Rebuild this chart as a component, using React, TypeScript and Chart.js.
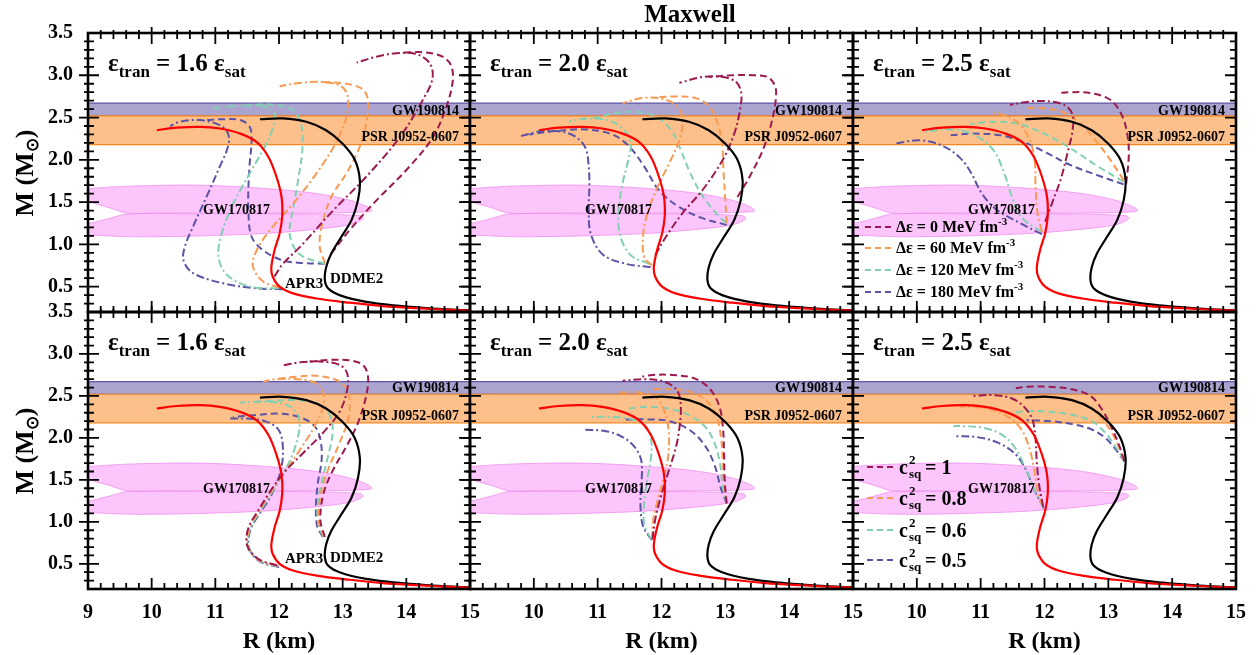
import React, { useEffect, useRef } from "react";
import { Chart, registerables } from "chart.js";

Chart.register(...registerables);

type Pt = [number, number];

// ---------- axes ----------
const R_RANGE: Pt = [9, 15];
const M_RANGE: Pt = [0.2, 3.5];
const X_TICKS = [9, 10, 11, 12, 13, 14, 15];
const X_TICKS_INNER = [10, 11, 12, 13, 14, 15];
const Y_TICKS = [0.5, 1.0, 1.5, 2.0, 2.5, 3.0, 3.5];

// ---------- observational bands ----------
const GW190814_BAND: Pt = [2.52, 2.67];
const PSR_BAND: Pt = [2.18, 2.52];

// GW170817 regions (R, M)
const GW170817_UPPER: Pt[] = [[8.8, 1.64], [9.02, 1.66], [9.71, 1.69], [10.76, 1.70], [11.8, 1.66], [12.6, 1.6], [13.12, 1.52], [13.4, 1.44], [13.46, 1.4], [13.4, 1.385], [12.86, 1.372], [11.29, 1.37], [10.24, 1.37], [9.61, 1.37], [9.35, 1.43], [9.03, 1.5], [8.8, 1.55], [8.8, 1.64]];
const GW170817_LOWER: Pt[] = [[8.8, 1.23], [9.03, 1.25], [9.35, 1.31], [9.61, 1.36], [10.76, 1.362], [12.34, 1.36], [13.26, 1.34], [13.32, 1.31], [13.28, 1.28], [13.1, 1.23], [12.6, 1.18], [11.8, 1.13], [10.76, 1.1], [9.71, 1.09], [9.03, 1.11], [8.8, 1.12], [8.8, 1.23]];

// ---------- hadronic EOS ----------
const APR3: Pt[] = [[10.08, 2.35], [10.39, 2.38], [10.76, 2.39], [11.07, 2.37], [11.39, 2.31], [11.65, 2.21], [11.83, 2.04], [11.96, 1.8], [12.04, 1.56], [12.05, 1.33], [12.01, 1.13], [11.93, 0.93], [11.88, 0.73], [11.9, 0.62], [12.01, 0.5], [12.22, 0.42], [12.59, 0.36], [13.11, 0.31], [13.63, 0.27], [14.16, 0.245], [14.78, 0.222], [15.3, 0.21]];
const DDME2: Pt[] = [[11.7, 2.48], [12.06, 2.49], [12.43, 2.45], [12.74, 2.35], [13.0, 2.19], [13.19, 2.0], [13.27, 1.76], [13.24, 1.52], [13.14, 1.29], [12.98, 1.09], [12.82, 0.89], [12.74, 0.73], [12.72, 0.58], [12.77, 0.48], [12.95, 0.4], [13.37, 0.32], [13.89, 0.273], [14.42, 0.241], [14.89, 0.222], [15.3, 0.21]];

// ---------- top row: Δε series (A = from APR3, dash-dot; D = from DDME2, dashed) ----------
const T16_DE0_A: Pt[] = [[11.93, 0.62], [12.06, 0.77], [12.33, 0.97], [12.85, 1.4], [13.37, 1.8], [13.9, 2.27], [14.26, 2.71], [14.41, 2.96], [14.37, 3.14], [14.16, 3.25], [13.84, 3.26], [13.53, 3.22], [13.22, 3.15]];
const T16_DE0_D: Pt[] = [[12.82, 0.89], [13.11, 1.17], [13.53, 1.52], [14.05, 1.92], [14.42, 2.27], [14.63, 2.63], [14.73, 2.94], [14.7, 3.12], [14.57, 3.22], [14.31, 3.27], [13.95, 3.27]];
const T16_DE60_A: Pt[] = [[12.01, 0.49], [11.75, 0.56], [11.59, 0.74], [11.65, 0.93], [11.86, 1.17], [12.22, 1.48], [12.59, 1.84], [12.9, 2.21], [13.06, 2.51], [13.08, 2.75], [12.98, 2.87], [12.69, 2.92], [12.33, 2.91], [12.01, 2.87]];
const T16_DE60_D: Pt[] = [[12.72, 0.78], [12.64, 0.97], [12.67, 1.21], [12.82, 1.56], [13.06, 1.84], [13.27, 2.16], [13.38, 2.47], [13.4, 2.69], [13.32, 2.83], [13.06, 2.9], [12.69, 2.92]];
const T16_DE120_A: Pt[] = [[11.99, 0.48], [11.54, 0.5], [11.18, 0.64], [11.05, 0.85], [11.1, 1.13], [11.28, 1.48], [11.54, 1.84], [11.78, 2.16], [11.91, 2.39], [11.93, 2.55], [11.75, 2.63], [11.38, 2.64], [10.97, 2.61]];
const T16_DE120_D: Pt[] = [[12.72, 0.77], [12.33, 0.88], [12.17, 1.11], [12.23, 1.45], [12.3, 1.76], [12.37, 2.16], [12.33, 2.47], [12.17, 2.61], [11.91, 2.65], [11.54, 2.65]];
const T16_DE180_A: Pt[] = [[12.06, 0.47], [11.65, 0.48], [11.12, 0.54], [10.65, 0.66], [10.5, 0.81], [10.52, 0.97], [10.65, 1.21], [10.86, 1.56], [11.07, 1.92], [11.2, 2.16], [11.2, 2.31], [11.07, 2.41], [10.76, 2.47], [10.44, 2.45], [10.29, 2.4]];
const T16_DE180_D: Pt[] = [[12.72, 0.77], [12.38, 0.78], [12.06, 0.81], [11.75, 0.93], [11.57, 1.09], [11.52, 1.37], [11.52, 1.68], [11.54, 1.96], [11.57, 2.23], [11.54, 2.39], [11.39, 2.47], [11.12, 2.48], [10.86, 2.47]];

const T20_DE0_A: Pt[] = [[11.9, 0.87], [12.07, 1.09], [12.33, 1.37], [12.64, 1.64], [12.96, 2.0], [13.14, 2.31], [13.23, 2.59], [13.25, 2.79], [13.17, 2.92], [12.96, 2.98], [12.64, 2.98], [12.28, 2.91]];
const T20_DE0_D: Pt[] = [[13.19, 1.56], [13.38, 1.8], [13.59, 2.12], [13.72, 2.43], [13.79, 2.71], [13.78, 2.87], [13.66, 2.98], [13.43, 3.0], [13.11, 3.0], [12.75, 2.98]];
const T20_DE60_A: Pt[] = [[11.85, 0.75], [11.73, 0.85], [11.71, 1.09], [11.78, 1.37], [11.94, 1.68], [12.12, 1.96], [12.28, 2.23], [12.33, 2.47], [12.25, 2.63], [12.02, 2.72], [11.7, 2.73], [11.39, 2.67]];
const T20_DE60_D: Pt[] = [[13.02, 1.25], [13.0, 1.52], [12.97, 1.88], [12.95, 2.19], [12.88, 2.43], [12.75, 2.63], [12.54, 2.73], [12.23, 2.75], [11.91, 2.74]];
const T20_DE120_A: Pt[] = [[11.81, 0.77], [11.52, 0.87], [11.35, 1.11], [11.33, 1.41], [11.39, 1.72], [11.48, 2.0], [11.52, 2.19], [11.44, 2.33], [11.23, 2.45], [10.92, 2.49], [10.55, 2.46]];
const T20_DE120_D: Pt[] = [[13.01, 1.25], [12.83, 1.39], [12.62, 1.6], [12.44, 1.86], [12.3, 2.12], [12.17, 2.33], [11.96, 2.49], [11.7, 2.56], [11.34, 2.56], [10.92, 2.49]];
const T20_DE180_A: Pt[] = [[11.83, 0.73], [11.44, 0.77], [11.08, 0.88], [10.89, 1.13], [10.86, 1.44], [10.87, 1.68], [10.86, 1.92], [10.81, 2.14], [10.66, 2.27], [10.45, 2.33], [10.13, 2.34], [9.79, 2.28]];
const T20_DE180_D: Pt[] = [[13.02, 1.23], [12.64, 1.31], [12.28, 1.44], [11.96, 1.64], [11.73, 1.92], [11.49, 2.16], [11.23, 2.3], [10.81, 2.36], [10.34, 2.34], [9.93, 2.3]];

const T25_DE0_A: Pt[] = [[12.01, 1.27], [12.12, 1.49], [12.25, 1.76], [12.36, 2.08], [12.44, 2.35], [12.44, 2.53], [12.33, 2.64], [12.09, 2.69], [11.78, 2.69], [11.46, 2.65]];
const T25_DE0_D: Pt[] = [[13.28, 1.72], [13.32, 2.04], [13.3, 2.29], [13.21, 2.53], [13.03, 2.71], [12.72, 2.79], [12.4, 2.8], [12.2, 2.79]];
const T25_DE60_A: Pt[] = [[11.96, 1.15], [11.89, 1.37], [11.86, 1.68], [11.85, 1.96], [11.79, 2.19], [11.65, 2.39], [11.44, 2.51], [11.2, 2.56]];
const T25_DE60_D: Pt[] = [[13.24, 1.76], [13.03, 2.0], [12.8, 2.23], [12.56, 2.43], [12.3, 2.56], [11.99, 2.61], [11.67, 2.61]];
const T25_DE120_A: Pt[] = [[11.96, 1.15], [11.65, 1.31], [11.49, 1.56], [11.38, 1.82], [11.23, 2.08], [11.04, 2.23], [10.78, 2.33], [10.47, 2.36], [10.1, 2.33]];
const T25_DE120_D: Pt[] = [[13.24, 1.74], [12.82, 1.93], [12.4, 2.14], [11.99, 2.31], [11.57, 2.43], [11.15, 2.45], [10.84, 2.42]];
const T25_DE180_A: Pt[] = [[11.96, 1.12], [11.62, 1.25], [11.25, 1.41], [11.02, 1.6], [10.84, 1.86], [10.68, 2.02], [10.42, 2.16], [10.05, 2.23], [9.63, 2.19]];
const T25_DE180_D: Pt[] = [[13.24, 1.71], [12.82, 1.82], [12.4, 1.94], [12.04, 2.08], [11.67, 2.21], [11.31, 2.29], [10.89, 2.31], [10.52, 2.29]];

// ---------- bottom row: c_sq^2 series ----------
const B16_C10_A: Pt[] = [[11.97, 0.48], [11.67, 0.56], [11.5, 0.72], [11.52, 0.93], [11.67, 1.13], [11.85, 1.35], [12.07, 1.58], [12.38, 1.82], [12.69, 2.06], [12.95, 2.31], [13.07, 2.57], [13.07, 2.77], [12.95, 2.87], [12.64, 2.91], [12.33, 2.9], [12.04, 2.86]];
const B16_C10_D: Pt[] = [[12.72, 0.82], [12.65, 1.02], [12.7, 1.34], [12.85, 1.62], [13.06, 1.9], [13.24, 2.18], [13.36, 2.47], [13.4, 2.71], [13.33, 2.86], [13.14, 2.92], [12.82, 2.93], [12.48, 2.91]];
const B16_C08_A: Pt[] = [[11.98, 0.476], [11.68, 0.548], [11.51, 0.707], [11.53, 0.921], [11.68, 1.119], [11.86, 1.341], [12.06, 1.56], [12.33, 1.86], [12.56, 2.14], [12.69, 2.37], [12.69, 2.55], [12.56, 2.66], [12.27, 2.7], [11.96, 2.7], [11.75, 2.67]];
const B16_C08_D: Pt[] = [[12.71, 0.82], [12.63, 0.98], [12.65, 1.3], [12.77, 1.62], [12.94, 1.92], [13.08, 2.2], [13.11, 2.43], [13.06, 2.59], [12.9, 2.69], [12.59, 2.74], [12.27, 2.73], [11.96, 2.7]];
const B16_C06_A: Pt[] = [[11.99, 0.468], [11.69, 0.54], [11.52, 0.7], [11.54, 0.913], [11.69, 1.11], [11.87, 1.33], [12.04, 1.54], [12.2, 1.78], [12.3, 2.02], [12.32, 2.22], [12.22, 2.35], [11.99, 2.42], [11.65, 2.43], [11.39, 2.42]];
const B16_C06_D: Pt[] = [[12.7, 0.82], [12.62, 0.96], [12.61, 1.22], [12.68, 1.5], [12.77, 1.78], [12.84, 2.04], [12.82, 2.23], [12.69, 2.37], [12.43, 2.44], [12.07, 2.45], [11.65, 2.43]];
const B16_C05_A: Pt[] = [[12.0, 0.46], [11.7, 0.528], [11.53, 0.687], [11.55, 0.905], [11.7, 1.103], [11.88, 1.32], [12.03, 1.62], [12.06, 1.9], [11.99, 2.1], [11.78, 2.2], [11.49, 2.23], [11.23, 2.23]];
const B16_C05_D: Pt[] = [[12.69, 0.82], [12.6, 0.945], [12.58, 1.18], [12.61, 1.46], [12.67, 1.74], [12.65, 1.98], [12.56, 2.14], [12.35, 2.24], [12.01, 2.29], [11.6, 2.27], [11.28, 2.25]];

const B20_C10_A: Pt[] = [[11.86, 0.79], [11.9, 1.02], [11.99, 1.3], [12.11, 1.6], [12.23, 1.9], [12.29, 2.18], [12.3, 2.41], [12.24, 2.57], [12.04, 2.67], [11.73, 2.7], [11.39, 2.68]];
const B20_C10_D: Pt[] = [[13.02, 1.22], [12.99, 1.5], [12.98, 1.82], [12.96, 2.14], [12.9, 2.39], [12.75, 2.59], [12.51, 2.71], [12.17, 2.75], [11.86, 2.75], [11.7, 2.73]];
const B20_C08_A: Pt[] = [[11.85, 0.79], [11.87, 1.02], [11.94, 1.26], [12.04, 1.54], [12.11, 1.82], [12.11, 2.1], [12.04, 2.33], [11.9, 2.49], [11.65, 2.54], [11.34, 2.54]];
const B20_C08_D: Pt[] = [[13.02, 1.23], [12.98, 1.46], [12.96, 1.74], [12.93, 2.02], [12.86, 2.26], [12.72, 2.43], [12.49, 2.54], [12.17, 2.58], [11.86, 2.58]];
const B20_C06_A: Pt[] = [[11.84, 0.79], [11.73, 0.97], [11.73, 1.24], [11.78, 1.52], [11.84, 1.8], [11.83, 2.02], [11.73, 2.16], [11.49, 2.23], [11.18, 2.25], [10.89, 2.25]];
const B20_C06_D: Pt[] = [[13.02, 1.23], [12.96, 1.42], [12.92, 1.68], [12.84, 1.92], [12.7, 2.12], [12.46, 2.26], [12.12, 2.35], [11.76, 2.37], [11.49, 2.35]];
const B20_C05_A: Pt[] = [[11.85, 0.78], [11.71, 0.95], [11.67, 1.22], [11.69, 1.5], [11.68, 1.74], [11.57, 1.9], [11.39, 2.01], [11.13, 2.08], [10.76, 2.1]];
const B20_C05_D: Pt[] = [[13.02, 1.22], [12.93, 1.4], [12.83, 1.68], [12.67, 1.92], [12.43, 2.1], [12.12, 2.2], [11.81, 2.22], [11.44, 2.22]];

const B25_C10_A: Pt[] = [[11.98, 1.18], [11.92, 1.42], [11.88, 1.7], [11.86, 1.98], [11.81, 2.22], [11.68, 2.37], [11.49, 2.47], [11.2, 2.51], [10.89, 2.5]];
const B25_C10_D: Pt[] = [[13.25, 1.73], [13.16, 1.93], [13.04, 2.14], [12.9, 2.34], [12.72, 2.5], [12.43, 2.58], [12.06, 2.61], [11.72, 2.61], [11.54, 2.59]];
const B25_C08_A: Pt[] = [[11.97, 1.18], [11.89, 1.38], [11.83, 1.66], [11.75, 1.91], [11.62, 2.12], [11.41, 2.26], [11.15, 2.34], [10.84, 2.37], [10.68, 2.37]];
const B25_C08_D: Pt[] = [[13.24, 1.74], [13.15, 1.92], [13.01, 2.12], [12.83, 2.29], [12.61, 2.41], [12.3, 2.47], [11.99, 2.49], [11.67, 2.48]];
const B25_C06_A: Pt[] = [[11.98, 1.17], [11.83, 1.4], [11.7, 1.64], [11.54, 1.88], [11.33, 2.04], [11.04, 2.12], [10.73, 2.14], [10.57, 2.14]];
const B25_C06_D: Pt[] = [[13.24, 1.74], [13.09, 1.92], [12.93, 2.08], [12.74, 2.2], [12.46, 2.27], [12.09, 2.31], [11.72, 2.32], [11.52, 2.3]];
const B25_C05_A: Pt[] = [[11.99, 1.16], [11.84, 1.38], [11.71, 1.62], [11.54, 1.81], [11.28, 1.94], [10.94, 2.01], [10.57, 2.02]];
const B25_C05_D: Pt[] = [[13.25, 1.72], [13.11, 1.87], [12.95, 2.0], [12.74, 2.1], [12.46, 2.16], [12.09, 2.2], [11.72, 2.21]];

// ---------- labels ----------
const EPS_TRAN = ["1.6", "2.0", "2.5"];
const DE_LABELS = ["0", "60", "120", "180"];
const CSQ_LABELS = ["1", "0.8", "0.6", "0.5"];

const SERIES_COLORS = ["#9c1a4f", "#f89a52", "#80d0b1", "#5c52a6"];

// ---------- layout ----------
const W = 1260;
const H = 655;
const COL_X0 = [88, 470, 853];
const COL_X1 = [470, 853, 1236];
const ROW_Y0 = [33, 312];
const ROW_Y1 = [312, 589];
const FONT = '"Liberation Serif", "Times New Roman", Times, serif';

const DASH = [7, 4];
const DASHDOT = [8, 3, 2, 3];

type Curve = { a: Pt[]; d: Pt[] };
type Panel = { row: number; col: number; curves: Curve[]; legend?: "de" | "csq" };

const PANELS: Panel[] = [
  { row: 0, col: 0, curves: [{ a: T16_DE0_A, d: T16_DE0_D }, { a: T16_DE60_A, d: T16_DE60_D }, { a: T16_DE120_A, d: T16_DE120_D }, { a: T16_DE180_A, d: T16_DE180_D }] },
  { row: 0, col: 1, curves: [{ a: T20_DE0_A, d: T20_DE0_D }, { a: T20_DE60_A, d: T20_DE60_D }, { a: T20_DE120_A, d: T20_DE120_D }, { a: T20_DE180_A, d: T20_DE180_D }] },
  { row: 0, col: 2, legend: "de", curves: [{ a: T25_DE0_A, d: T25_DE0_D }, { a: T25_DE60_A, d: T25_DE60_D }, { a: T25_DE120_A, d: T25_DE120_D }, { a: T25_DE180_A, d: T25_DE180_D }] },
  { row: 1, col: 0, curves: [{ a: B16_C10_A, d: B16_C10_D }, { a: B16_C08_A, d: B16_C08_D }, { a: B16_C06_A, d: B16_C06_D }, { a: B16_C05_A, d: B16_C05_D }] },
  { row: 1, col: 1, curves: [{ a: B20_C10_A, d: B20_C10_D }, { a: B20_C08_A, d: B20_C08_D }, { a: B20_C06_A, d: B20_C06_D }, { a: B20_C05_A, d: B20_C05_D }] },
  { row: 1, col: 2, legend: "csq", curves: [{ a: B25_C10_A, d: B25_C10_D }, { a: B25_C08_A, d: B25_C08_D }, { a: B25_C06_A, d: B25_C06_D }, { a: B25_C05_A, d: B25_C05_D }] },
];

const LEGEND_DE_Y = [227, 248, 270, 292];
const LEGEND_CSQ_Y = [467, 498, 530, 560];

function lineDs(pts: Pt[], color: string, dash: number[], width = 2) {
  return {
    data: pts.map(([x, y]) => ({ x, y })),
    showLine: true,
    borderColor: color,
    backgroundColor: color,
    borderWidth: width,
    borderDash: dash,
    pointRadius: 0,
    tension: 0.35,
    fill: false,
    clip: 0,
  };
}

function blobDs(pts: Pt[]) {
  return {
    data: pts.map(([x, y]) => ({ x, y })),
    showLine: true,
    borderColor: "rgba(238,140,238,0.75)",
    backgroundColor: "rgba(250,140,250,0.5)",
    borderWidth: 1,
    pointRadius: 0,
    tension: 0.3,
    fill: "shape",
    clip: 0,
  };
}

function makePlugin(p: Panel) {
  return {
    id: "frame",
    beforeDatasetsDraw(chart: any) {
      const { ctx, chartArea: a, scales } = chart;
      const y = scales.y;
      ctx.save();
      ctx.beginPath();
      ctx.rect(a.left, a.top, a.right - a.left, a.bottom - a.top);
      ctx.clip();
      const band = (b: Pt, fill: string, edge: string) => {
        const yt = y.getPixelForValue(b[1]);
        const yb = y.getPixelForValue(b[0]);
        ctx.fillStyle = fill;
        ctx.fillRect(a.left, yt, a.right - a.left, yb - yt);
        ctx.strokeStyle = edge;
        ctx.lineWidth = 1.2;
        ctx.beginPath();
        ctx.moveTo(a.left, yt);
        ctx.lineTo(a.right, yt);
        ctx.moveTo(a.left, yb);
        ctx.lineTo(a.right, yb);
        ctx.stroke();
      };
      band(GW190814_BAND, "#aaa4cf", "#5f55a6");
      band(PSR_BAND, "#fec08a", "#f5861f");
      ctx.restore();
    },
    afterDraw(chart: any) {
      const { ctx, chartArea: a, scales } = chart;
      const xs = scales.x;
      const ys = scales.y;
      ctx.save();
      ctx.strokeStyle = "#000";
      ctx.lineWidth = 1.8;
      ctx.setLineDash([]);
      ctx.beginPath();
      // x ticks
      for (let k = 1; k < 30; k++) {
        const v = R_RANGE[0] + k * 0.2;
        const major = k % 5 === 0;
        const px = xs.getPixelForValue(v);
        const inL = major ? 11 : 6;
        const outL = major ? 6 : 3;
        ctx.moveTo(px, a.bottom);
        ctx.lineTo(px, a.bottom - inL);
        ctx.moveTo(px, a.top - outL);
        ctx.lineTo(px, a.top + inL);
      }
      // y ticks
      for (let k = 3; k < 35; k++) {
        const v = k / 10;
        const major = k % 5 === 0;
        const py = ys.getPixelForValue(v);
        const inL = major ? 11 : 6;
        const outL = major ? 9 : 4;
        ctx.moveTo(a.left - outL, py);
        ctx.lineTo(a.left + inL, py);
        ctx.moveTo(a.right, py);
        ctx.lineTo(a.right - inL, py);
      }
      ctx.stroke();
      ctx.lineWidth = 2.6;
      ctx.strokeRect(a.left, a.top, a.right - a.left, a.bottom - a.top);

      // legend line samples
      if (p.legend) {
        const ysamp = p.legend === "de" ? LEGEND_DE_Y : LEGEND_CSQ_Y;
        const x0 = p.legend === "de" ? 865 : 867;
        ctx.lineWidth = 2;
        ctx.setLineDash([6, 4]);
        ysamp.forEach((yy, i) => {
          ctx.strokeStyle = SERIES_COLORS[i];
          ctx.beginPath();
          ctx.moveTo(x0, yy);
          ctx.lineTo(x0 + 26, yy);
          ctx.stroke();
        });
      }
      ctx.restore();
    },
  };
}

function buildConfig(p: Panel): any {
  const x0 = COL_X0[p.col];
  const x1 = COL_X1[p.col];
  const y0 = ROW_Y0[p.row];
  const y1 = ROW_Y1[p.row];
  const datasets: any[] = [lineDs(APR3, "#ff0000", [], 2.2), lineDs(DDME2, "#000000", [], 2.2)];
  p.curves.forEach((c, i) => {
    datasets.push(lineDs(c.a, SERIES_COLORS[i], DASHDOT));
    datasets.push(lineDs(c.d, SERIES_COLORS[i], DASH));
  });
  datasets.push(blobDs(GW170817_UPPER));
  datasets.push(blobDs(GW170817_LOWER));
  const showX = p.row === 1;
  const showY = p.col === 0;
  const xTicks = p.col === 0 ? X_TICKS : X_TICKS_INNER;
  const tickFont = { family: FONT, size: 20, weight: "bold" as const };
  const yAxisW = showY ? x0 : 0;
  const xAxisH = showX ? H - y1 : 0;
  return {
    type: "scatter",
    data: { datasets },
    options: {
      responsive: false,
      animation: false,
      events: [],
      layout: { padding: { left: x0 - yAxisW, right: W - x1, top: y0, bottom: H - y1 - xAxisH } },
      plugins: { legend: { display: false }, tooltip: { enabled: false }, title: { display: false } },
      elements: { point: { radius: 0 } },
      scales: {
        x: {
          type: "linear",
          min: R_RANGE[0],
          max: R_RANGE[1],
          grid: { display: false, drawTicks: false },
          border: { display: false },
          ticks: { display: showX, padding: 12, font: tickFont, color: "#000", autoSkip: false, maxRotation: 0, callback: (v: any) => String(v) },
          afterBuildTicks: (s: any) => {
            s.ticks = xTicks.map((v) => ({ value: v }));
          },
          afterFit: (s: any) => {
            s.height = xAxisH;
          },
        },
        y: {
          type: "linear",
          min: M_RANGE[0],
          max: M_RANGE[1],
          grid: { display: false, drawTicks: false },
          border: { display: false },
          ticks: { display: showY, padding: 15, font: tickFont, color: "#000", autoSkip: false, callback: (v: any) => Number(v).toFixed(1) },
          afterBuildTicks: (s: any) => {
            s.ticks = Y_TICKS.map((v) => ({ value: v }));
          },
          afterFit: (s: any) => {
            s.width = yAxisW;
          },
        },
      },
    },
    plugins: [makePlugin(p)],
  };
}

const BASE: React.CSSProperties = { position: "absolute", whiteSpace: "nowrap", lineHeight: 1 };

function Mid(props: { x: number; y: number; size: number; anchor?: "left" | "right" | "center"; children: React.ReactNode }) {
  const a = props.anchor || "left";
  const tx = a === "left" ? "0" : a === "right" ? "-100%" : "-50%";
  return <div style={{ ...BASE, left: props.x, top: props.y, fontSize: props.size, transform: `translate(${tx}, -50%)` }}>{props.children}</div>;
}

function Base(props: { x: number; y: number; size: number; children: React.ReactNode }) {
  return <div style={{ ...BASE, left: props.x, top: props.y - 0.8375 * props.size, fontSize: props.size }}>{props.children}</div>;
}

export default function App() {
  const refs = useRef<(HTMLCanvasElement | null)[]>([]);
  useEffect(() => {
    const charts = PANELS.map((p, i) => new Chart(refs.current[i] as HTMLCanvasElement, buildConfig(p)));
    return () => charts.forEach((c) => c.destroy());
  }, []);

  const texts: React.ReactNode[] = [];
  PANELS.forEach((p, i) => {
    const x0 = COL_X0[p.col];
    const x1 = COL_X1[p.col];
    const y0 = ROW_Y0[p.row];
    texts.push(
      <Base key={`eps${i}`} x={x0 + 20} y={y0 + 37.5} size={25}>
        ε<span style={{ fontSize: 17, position: "relative", top: 6.5 }}>tran</span> = {EPS_TRAN[p.col]} ε
        <span style={{ fontSize: 17, position: "relative", top: 6.5 }}>sat</span>
      </Base>
    );
    texts.push(
      <Mid key={`gw19${i}`} x={x1 - 11} y={y0 + (p.row === 0 ? 77.5 : 76)} size={14} anchor="right">
        GW190814
      </Mid>
    );
    texts.push(
      <Mid key={`psr${i}`} x={x1 - 11} y={y0 + 104} size={14} anchor="right">
        PSR J0952-0607
      </Mid>
    );
    texts.push(
      <Mid key={`gw17${i}`} x={x0 + 115} y={y0 + 177} size={14}>
        GW170817
      </Mid>
    );
    if (p.col === 0) {
      texts.push(
        <Mid key={`apr${i}`} x={x0 + 197} y={y0 + (p.row === 0 ? 250 : 246)} size={15}>
          APR3
        </Mid>
      );
      texts.push(
        <Mid key={`dd${i}`} x={x0 + 242} y={y0 + 245} size={15}>
          DDME2
        </Mid>
      );
    }
  });

  return (
    <div style={{ position: "absolute", left: 0, top: 0, width: W, height: H, background: "#fff", fontFamily: FONT, fontWeight: "bold", color: "#000", overflow: "hidden" }}>
      {PANELS.map((_, i) => (
        <canvas key={i} ref={(el) => { refs.current[i] = el; }} width={W} height={H} style={{ position: "absolute", left: 0, top: 0, width: W, height: H }} />
      ))}
      <Mid x={690} y={13} size={25} anchor="center">
        Maxwell
      </Mid>
      {ROW_Y0.map((y0, r) => (
        <div key={`ml${r}`} style={{ ...BASE, left: 25, top: r === 0 ? 173 : 451, fontSize: 26, transform: "translate(-50%, -50%) rotate(-90deg)" }}>
          M (M<span style={{ fontSize: 17, position: "relative", top: 5 }}>⊙</span>)
        </div>
      ))}
      {COL_X0.map((x0, c) => (
        <Mid key={`rl${c}`} x={(x0 + COL_X1[c]) / 2} y={640} size={24} anchor="center">
          R (km)
        </Mid>
      ))}
      {texts}
      {DE_LABELS.map((v, i) => (
        <Mid key={`de${i}`} x={896} y={LEGEND_DE_Y[i]} size={16}>
          Δε = {v} MeV fm<span style={{ fontSize: 11, position: "relative", top: -7 }}>-3</span>
        </Mid>
      ))}
      {CSQ_LABELS.map((v, i) => {
        const yb = LEGEND_CSQ_Y[i] + 6.5;
        return (
          <React.Fragment key={`cs${i}`}>
            <Base x={899} y={yb} size={20}>c</Base>
            <Base x={909} y={yb - 9.5} size={13}>2</Base>
            <Base x={909} y={yb + 4.5} size={13}>sq</Base>
            <Base x={925} y={yb} size={20}>= {v}</Base>
          </React.Fragment>
        );
      })}
    </div>
  );
}
